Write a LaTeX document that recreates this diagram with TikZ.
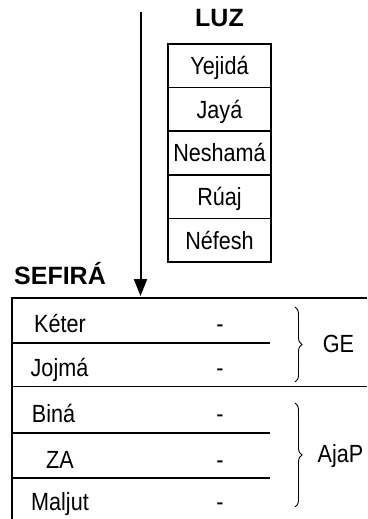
\documentclass[tikz,border=0pt]{standalone}
\usepackage{fontspec}
\setmainfont{Liberation Sans}
\usetikzlibrary{arrows.meta,decorations.pathreplacing}
\newcommand\vstr[1]{\scalebox{1}[1.15]{#1}}
\begin{document}
\begin{tikzpicture}[x=1pt,y=-1pt,
  lw/.style={line width=1.6pt},
  txt/.style={font=\fontsize{21.6}{25}\selectfont, text height=17.8pt, text depth=0pt, inner sep=0pt, outer sep=0pt},
  cell/.style={txt, draw, lw, minimum width=103pt, minimum height=43.6pt},
  hdr/.style={font=\fontsize{25}{29}\selectfont\bfseries, text height=17.9pt, text depth=0pt, inner sep=0pt},
  brc/.style={decorate, decoration={brace, amplitude=7pt}, line width=0.9pt}]
\useasboundingbox (0,0) rectangle (367,519);
% LUZ column
\node[hdr] (luz) at (219.5,17.5) {LUZ};
\node[cell] (c1) at (219.5,65.8) {\vstr{Yejidá}};
\node[cell] (c2) at (219.5,109.4) {\vstr{Jayá}};
\node[cell] (c3) at (219.5,153) {\vstr{Neshamá}};
\node[cell] (c4) at (219.5,196.6) {\vstr{Rúaj}};
\node[cell] (c5) at (219.5,240.2) {\vstr{Néfesh}};
% arrow
\coordinate (atop) at (140.5,12);
\coordinate (abot) at (140.5,296);
\draw[line width=2pt, -{Triangle[length=17pt,width=13pt]}] (atop) -- (abot);
% SEFIRA table
\node[hdr] (sef) at (60,275.5) {SEFIRÁ};
\coordinate (tl) at (12,298);
\coordinate (tr) at (367,298);
\coordinate (bl) at (12,519);
\coordinate (m1l) at (12,343);  \coordinate (m1r) at (270,343);
\coordinate (m2l) at (12,386.5);\coordinate (m2r) at (367,386.5);
\coordinate (m3l) at (12,433);  \coordinate (m3r) at (270,433);
\coordinate (m4l) at (12,478);  \coordinate (m4r) at (270,478);
\draw[lw] (tr) -- (tl) -- (bl);
\draw[lw] (m1l) -- (m1r);
\draw[lw] (m2l) -- (m2r);
\draw[lw] (m3l) -- (m3r);
\draw[lw] (m4l) -- (m4r);
% row texts
\node[txt] (keter) at (60,324) {\vstr{Kéter}};
\node[txt] (jojma) at (59.5,368) {\vstr{Jojmá}};
\node[txt] (bina) at (53.5,414) {\vstr{Biná}};
\node[txt] (za) at (60,460) {\vstr{ZA}};
\node[txt] (maljut) at (60,502) {\vstr{Maljut}};
\node[txt] (d1) at (220,324) {\vstr{-}};
\node[txt] (d2) at (220,368) {\vstr{-}};
\node[txt] (d3) at (220,414) {\vstr{-}};
\node[txt] (d4) at (220,460) {\vstr{-}};
\node[txt] (d5) at (220,502) {\vstr{-}};
% braces
\coordinate (b1t) at (295,307); \coordinate (b1b) at (295,382);
\coordinate (b2t) at (295,403); \coordinate (b2b) at (295,507);
\draw[brc] (b1t) -- (b1b);
\draw[brc] (b2t) -- (b2b);
\node[txt] (ge) at (338.5,344) {\vstr{GE}};
\node[txt] (ajap) at (340.5,454) {\vstr{AjaP}};
\end{tikzpicture}
\end{document}
